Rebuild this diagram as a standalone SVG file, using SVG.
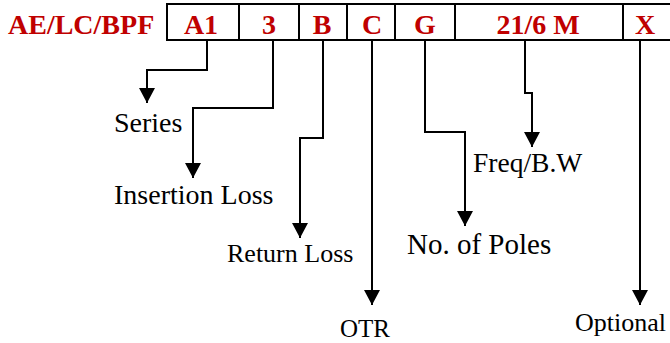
<svg xmlns="http://www.w3.org/2000/svg" width="670" height="343" viewBox="0 0 670 343">
<style>
.code{font-family:"Liberation Serif","Times New Roman",serif;font-weight:bold;font-size:28px;fill:#C00000;text-anchor:middle}
.lbl{font-family:"Liberation Serif","Times New Roman",serif;fill:#000}
.box{fill:#fff;stroke:#000;stroke-width:2}
.div{stroke:#000;stroke-width:2}
.con{fill:none;stroke:#000;stroke-width:2}
</style>
<defs>
<marker id="ah" viewBox="0 0 15 16" refX="15" refY="8" markerWidth="15" markerHeight="16" markerUnits="userSpaceOnUse" orient="auto">
<path d="M0,0 L15,8 L0,16 Z" fill="#000"/>
</marker>
</defs>
<rect width="670" height="343" fill="#fff"/>
<g id="prefix"><text class="code" x="8" y="34" style="text-anchor:start">AE/LC/BPF</text></g>
<g id="codebox">
<rect class="box" x="167" y="4" width="510" height="36"/>
<line class="div" x1="239" y1="4" x2="239" y2="40"/>
<line class="div" x1="299" y1="4" x2="299" y2="40"/>
<line class="div" x1="347" y1="4" x2="347" y2="40"/>
<line class="div" x1="395" y1="4" x2="395" y2="40"/>
<line class="div" x1="455" y1="4" x2="455" y2="40"/>
<line class="div" x1="623" y1="4" x2="623" y2="40"/>
</g>
<g id="cell-a1"><text class="code" x="201" y="34">A1</text></g>
<g id="cell-3"><text class="code" x="269" y="34">3</text></g>
<g id="cell-b"><text class="code" x="322" y="34">B</text></g>
<g id="cell-c"><text class="code" x="372" y="34">C</text></g>
<g id="cell-g"><text class="code" x="425" y="34">G</text></g>
<g id="cell-freq"><text class="code" x="538" y="34">21/6 M</text></g>
<g id="cell-x"><text class="code" x="645" y="34">X</text></g>
<g id="connectors">
<path class="con" d="M207,40 V70 H147 V103" marker-end="url(#ah)"/>
<path class="con" d="M273,40 V108 H193 V178" marker-end="url(#ah)"/>
<path class="con" d="M323,40 V138 H300 V238" marker-end="url(#ah)"/>
<path class="con" d="M372,40 V305" marker-end="url(#ah)"/>
<path class="con" d="M425,40 V132 H465 V226" marker-end="url(#ah)"/>
<path class="con" d="M525,40 V93 H532 V147" marker-end="url(#ah)"/>
<path class="con" d="M640,40 V305" marker-end="url(#ah)"/>
</g>
<g id="label-series"><text class="lbl" x="114" y="132" font-size="28">Series</text></g>
<g id="label-insertion"><text class="lbl" x="114" y="204" font-size="28">Insertion Loss</text></g>
<g id="label-return"><text class="lbl" x="227" y="262" font-size="26">Return Loss</text></g>
<g id="label-otr"><text class="lbl" x="340" y="337" font-size="25">OTR</text></g>
<g id="label-poles"><text class="lbl" x="407" y="254" font-size="29">No. of Poles</text></g>
<g id="label-freq"><text class="lbl" x="473" y="172" font-size="27.5">Freq/B.W</text></g>
<g id="label-optional"><text class="lbl" x="575" y="331" font-size="26">Optional</text></g>
</svg>
